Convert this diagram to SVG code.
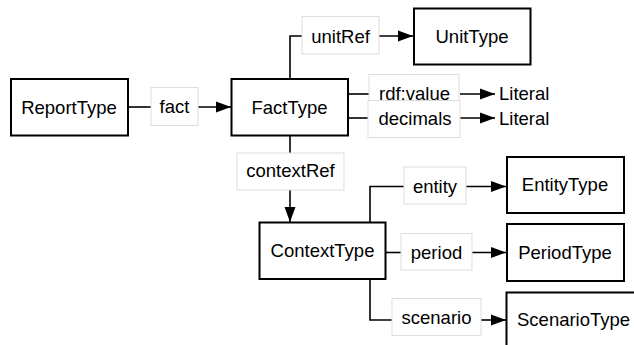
<svg xmlns="http://www.w3.org/2000/svg" width="634" height="345" viewBox="0 0 634 345">
<defs>
<marker id="arr" markerUnits="userSpaceOnUse" markerWidth="15" markerHeight="12" refX="15" refY="6" orient="auto">
<path d="M0,0.5 L15,6 L0,11.5 z" fill="#000"/>
</marker>
<style>
.node rect{fill:#fff;stroke:#000;stroke-width:2}
.lbl rect{fill:#fff;stroke:#ddd;stroke-width:1}
text{font-family:"Liberation Sans",Arial,sans-serif;font-size:18.5px;fill:#000;text-anchor:middle}
.edge{fill:none;stroke:#000;stroke-width:1.6}
</style>
</defs>
<rect width="634" height="345" fill="#fff"/>
<g id="connectors">
<path class="edge" d="M128,107 H151"/>
<path class="edge" d="M198,107 H231" marker-end="url(#arr)"/>
<path class="edge" d="M290,79 V36 H302"/>
<path class="edge" d="M379,36 H413" marker-end="url(#arr)"/>
<path class="edge" d="M348,94 H369"/>
<path class="edge" d="M348,118 H369"/>
<path class="edge" d="M460,94 H495" marker-end="url(#arr)"/>
<path class="edge" d="M460,118 H495" marker-end="url(#arr)"/>
<path class="edge" d="M290,135 V153"/>
<path class="edge" d="M290,190 V222" marker-end="url(#arr)"/>
<path class="edge" d="M370,222 V186.5 H404"/>
<path class="edge" d="M466,186.5 H506" marker-end="url(#arr)"/>
<path class="edge" d="M386,252.5 H401"/>
<path class="edge" d="M472,252.5 H506" marker-end="url(#arr)"/>
<path class="edge" d="M370,279 V320 H392"/>
<path class="edge" d="M481,320 H506" marker-end="url(#arr)"/>
</g>
<g id="lbl-fact" class="lbl"><rect x="151" y="87.5" width="47" height="38"/><text x="174.5" y="113">fact</text></g>
<g id="lbl-unitRef" class="lbl"><rect x="302" y="16.5" width="77" height="37.5"/><text x="340.5" y="42.5">unitRef</text></g>
<g id="lbl-rdfvalue" class="lbl"><rect x="369" y="74.5" width="90" height="37"/><text x="414.5" y="100">rdf:value</text></g>
<g id="lbl-decimals" class="lbl"><rect x="368" y="100.5" width="92" height="37"/><text x="415" y="124.5">decimals</text></g>
<g id="lbl-contextRef" class="lbl"><rect x="237" y="153" width="107" height="37"/><text x="290.5" y="177">contextRef</text></g>
<g id="lbl-entity" class="lbl"><rect x="404" y="167" width="62" height="37"/><text x="435" y="192.5">entity</text></g>
<g id="lbl-period" class="lbl"><rect x="401" y="233.5" width="71" height="36.5"/><text x="436.5" y="258.5">period</text></g>
<g id="lbl-scenario" class="lbl"><rect x="392" y="298.5" width="89" height="37"/><text x="436.5" y="324">scenario</text></g>
<g id="ReportType" class="node"><rect x="11" y="79" width="117" height="56.5"/><text x="69" y="113.5">ReportType</text></g>
<g id="FactType" class="node"><rect x="231.5" y="79" width="116.5" height="56.5"/><text x="289.5" y="113.5">FactType</text></g>
<g id="UnitType" class="node"><rect x="414" y="8.5" width="116.5" height="56"/><text x="472" y="42.5">UnitType</text></g>
<g id="Literal1"><text x="499" y="100" style="text-anchor:start">Literal</text></g>
<g id="Literal2"><text x="499" y="124.5" style="text-anchor:start">Literal</text></g>
<g id="ContextType" class="node"><rect x="259.5" y="222.5" width="126" height="56.5"/><text x="322.5" y="257">ContextType</text></g>
<g id="EntityType" class="node"><rect x="507" y="157" width="117" height="56"/><text x="565" y="191">EntityType</text></g>
<g id="PeriodType" class="node"><rect x="507" y="224" width="117" height="57"/><text x="565" y="258.5">PeriodType</text></g>
<g id="ScenarioType" class="node"><rect x="506.5" y="292.5" width="140" height="70"/><text x="517" y="326" style="text-anchor:start">ScenarioType</text></g>
</svg>
